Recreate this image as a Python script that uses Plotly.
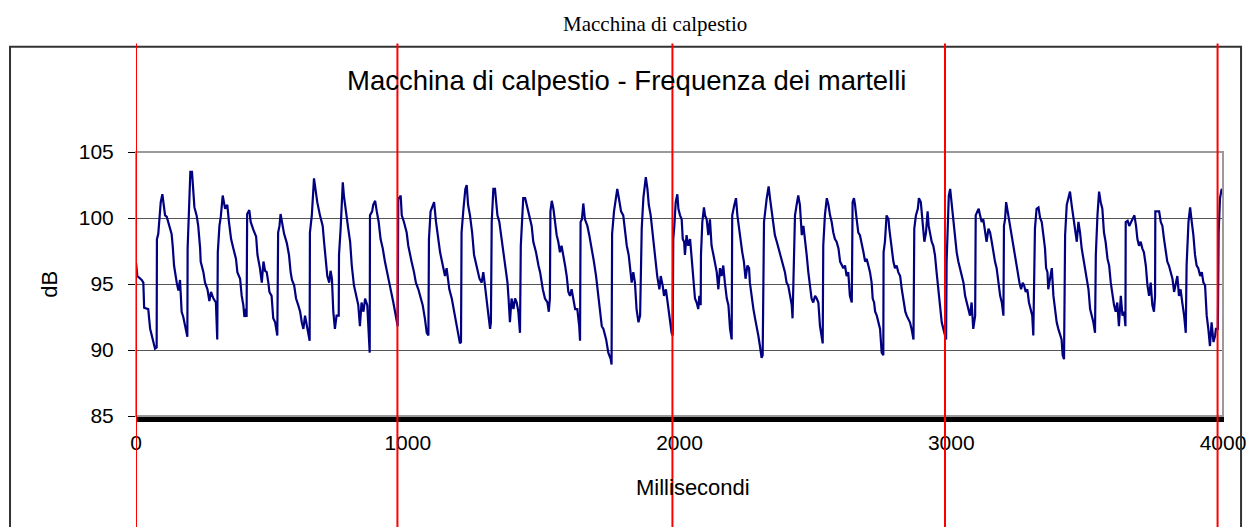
import plotly.graph_objects as go

# ---- data ----
time_ms = [
    0, 5, 21, 27, 30, 45, 52, 58, 64, 70, 76, 77, 82, 86, 91, 97, 101, 107, 113, 119, 125, 131, 135, 140,
    150, 156, 162, 164, 168, 174, 180, 187, 189, 190, 195, 200, 206, 209, 215, 223, 229, 236, 238, 248,
    254, 263, 270, 276, 285, 294, 299, 301, 307, 312, 319, 328, 336, 342, 350, 358, 368, 373, 383, 389,
    395, 399, 405, 407, 409, 417, 422, 432, 442, 447, 456, 463, 469, 475, 481, 487, 491, 499, 505, 512,
    518, 520, 523, 528, 532, 539, 545, 555, 563, 569, 574, 582, 589, 597, 604, 610, 616, 622, 628, 637,
    639, 640, 647, 655, 662, 667, 677, 687, 692, 699, 704, 711, 716, 721, 726, 732, 738, 746, 747, 753,
    761, 765, 773, 781, 788, 794, 802, 812, 818, 824, 830, 837, 843, 851, 856, 860, 861, 869, 873, 880,
    886, 893, 900, 908, 916, 925, 932, 938, 947, 953, 959, 963, 965, 969, 974, 978, 986, 996, 1002, 1008,
    1014, 1023, 1030, 1039, 1045, 1055, 1063, 1070, 1076, 1078, 1084, 1092, 1097, 1104, 1110, 1119, 1129,
    1137, 1143, 1153, 1162, 1170, 1178, 1186, 1192, 1196, 1198, 1205, 1212, 1217, 1222, 1229, 1237, 1244,
    1254, 1264, 1272, 1278, 1284, 1291, 1297, 1303, 1306, 1309, 1315, 1321, 1325, 1330, 1337, 1343, 1352,
    1357, 1362, 1367, 1371, 1376, 1382, 1389, 1395, 1401, 1407, 1413, 1416, 1420, 1425, 1432, 1438, 1447,
    1456, 1462, 1472, 1481, 1487, 1497, 1505, 1514, 1519, 1523, 1525, 1530, 1536, 1542, 1548, 1554, 1560,
    1566, 1573, 1579, 1585, 1591, 1597, 1603, 1609, 1616, 1624, 1631, 1634, 1636, 1641, 1646, 1652, 1661,
    1668, 1677, 1685, 1693, 1698, 1708, 1714, 1720, 1730, 1738, 1747, 1750, 1752, 1759, 1766, 1771, 1777,
    1785, 1793, 1800, 1806, 1813, 1818, 1824, 1830, 1836, 1842, 1849, 1855, 1861, 1867, 1876, 1882, 1887,
    1894, 1901, 1907, 1914, 1918, 1926, 1931, 1938, 1943, 1950, 1957, 1965, 1971, 1975, 1977, 1981, 1986,
    1992, 1996, 2002, 2008, 2012, 2017, 2020, 2026, 2032, 2039, 2045, 2051, 2057, 2063, 2069, 2073, 2078,
    2079, 2084, 2090, 2094, 2100, 2106, 2112, 2118, 2125, 2131, 2137, 2143, 2149, 2155, 2161, 2167, 2174,
    2180, 2186, 2192, 2194, 2202, 2208, 2213, 2219, 2225, 2231, 2237, 2243, 2250, 2256, 2259, 2266, 2272,
    2278, 2284, 2290, 2296, 2302, 2306, 2311, 2321, 2328, 2333, 2339, 2345, 2351, 2358, 2364, 2370, 2376,
    2382, 2388, 2394, 2400, 2407, 2413, 2416, 2425, 2431, 2437, 2443, 2450, 2456, 2462, 2468, 2474, 2480,
    2486, 2492, 2499, 2505, 2511, 2517, 2523, 2527, 2529, 2535, 2542, 2548, 2554, 2560, 2566, 2572, 2578,
    2585, 2591, 2597, 2603, 2609, 2615, 2621, 2627, 2634, 2637, 2642, 2646, 2652, 2658, 2664, 2670, 2677,
    2683, 2689, 2695, 2701, 2707, 2711, 2716, 2720, 2726, 2732, 2738, 2744, 2750, 2751, 2756, 2762, 2769,
    2772, 2777, 2782, 2787, 2793, 2799, 2805, 2812, 2818, 2821, 2826, 2831, 2836, 2842, 2848, 2854, 2861,
    2864, 2870, 2877, 2881, 2888, 2891, 2897, 2901, 2907, 2913, 2917, 2922, 2928, 2934, 2940, 2946, 2953,
    2959, 2965, 2971, 2977, 2981, 2983, 2986, 2991, 2996, 3002, 3008, 3014, 3020, 3026, 3032, 3038, 3045,
    3051, 3057, 3063, 3069, 3075, 3081, 3088, 3090, 3096, 3101, 3106, 3112, 3118, 3124, 3130, 3137, 3143,
    3149, 3155, 3161, 3167, 3173, 3180, 3186, 3189, 3192, 3194, 3198, 3202, 3206, 3214, 3220, 3226, 3232,
    3238, 3245, 3251, 3257, 3263, 3268, 3274, 3280, 3286, 3292, 3298, 3302, 3308, 3314, 3321, 3327, 3333,
    3339, 3345, 3349, 3354, 3357, 3364, 3370, 3376, 3382, 3388, 3394, 3400, 3406, 3410, 3415, 3419, 3425,
    3431, 3437, 3443, 3449, 3456, 3462, 3468, 3474, 3480, 3486, 3492, 3498, 3505, 3511, 3517, 3523, 3529,
    3532, 3538, 3544, 3550, 3556, 3562, 3568, 3575, 3581, 3587, 3593, 3599, 3605, 3611, 3617, 3624, 3630,
    3636, 3641, 3642, 3649, 3655, 3662, 3668, 3674, 3680, 3685, 3691, 3697, 3703, 3709, 3716, 3722, 3728,
    3734, 3740, 3746, 3750, 3751, 3759, 3765, 3771, 3777, 3783, 3789, 3795, 3801, 3808, 3814, 3820, 3826,
    3832, 3838, 3844, 3850, 3857, 3863, 3866, 3873, 3879, 3885, 3891, 3897, 3903, 3909, 3916, 3922, 3928,
    3934, 3940, 3946, 3952, 3958, 3965, 3971, 3974, 3981, 3984, 3989, 3995, 4000,
]

level_db = [
    96.6, 95.6, 95.3, 95.1, 93.2, 93.1, 91.6, 91.1, 90.6, 90.1, 90.2, 98.4, 98.8, 100.2, 101.2, 101.8, 101.0, 100.2, 100.1, 99.7, 99.3, 98.8, 97.9, 96.4,
    95.1, 94.5, 95.3, 94.6, 92.9, 92.5, 91.8, 91.0, 91.0, 97.7, 101.0, 103.5, 103.5, 102.2, 100.8, 100.2, 99.4, 97.7, 96.7, 95.9,
    95.1, 94.6, 93.7, 94.4, 93.9, 93.6, 90.8, 97.4, 99.4, 100.1, 101.7, 100.7, 101.0, 99.7, 98.4, 97.7, 96.9, 95.9, 95.4, 94.1,
    93.4, 92.5, 93.1, 92.5, 100.3, 100.6, 99.7, 99.1, 98.6, 97.2, 96.2, 95.1, 96.7, 96.0, 95.9, 95.1, 94.4, 94.1, 92.4, 92.1,
    91.1, 91.1, 98.9, 99.4, 100.3, 99.4, 98.8, 98.1, 97.2, 95.9, 95.3, 94.9, 93.9, 93.4, 92.9, 92.1, 91.6, 92.6, 91.8, 90.7,
    90.7, 98.9, 100.2, 103.0, 102.0, 101.2, 100.2, 99.4, 98.2, 96.4, 95.6, 95.1, 96.0, 95.4, 92.9, 91.6, 92.6, 92.6, 97.2, 99.2,
    102.7, 101.7, 100.2, 99.2, 98.2, 96.4, 94.9, 93.9, 93.4, 91.8, 93.6, 92.9, 93.9, 93.4, 90.6, 89.8, 100.2, 100.5, 101.0, 101.3,
    100.5, 99.7, 98.4, 97.7, 96.7, 95.9, 95.1, 94.5, 93.6, 92.9, 92.0, 91.8, 101.5, 101.5, 101.7, 100.2, 99.7, 98.9, 97.9, 97.2,
    96.7, 95.9, 95.1, 94.6, 94.1, 93.4, 92.4, 91.3, 91.1, 98.4, 100.5, 101.0, 101.2, 99.7, 98.7, 97.4, 96.4,
    95.6, 96.2, 94.6, 93.9, 92.9, 92.1, 91.1, 90.5, 90.6, 98.9, 100.7, 102.2, 102.5, 101.0, 100.2, 98.9, 97.2,
    96.2, 95.4, 95.1, 95.9, 94.9, 93.4, 92.6, 91.6, 92.1, 99.7, 102.2, 102.2, 101.0, 100.2, 99.7, 98.7, 97.4,
    96.4, 95.9, 95.1, 93.9, 92.1, 93.9, 93.1, 93.9, 93.6, 92.9, 91.3, 97.9, 100.2, 101.5, 101.5, 101.0, 100.2,
    99.4, 98.2, 97.4, 96.4, 95.9, 94.6, 93.9, 93.6, 92.9, 93.9, 100.5, 101.3, 100.7, 99.7, 98.7, 98.2, 97.4,
    97.9, 97.2, 96.4, 95.6, 94.4, 94.1, 94.6, 93.9, 93.1, 93.1, 91.8, 90.7, 99.7, 99.9, 101.1, 99.9, 99.4,
    98.7, 97.7, 96.7, 95.6, 94.6, 92.6, 91.8, 91.6, 90.8, 89.8, 89.3, 88.9, 98.8, 100.5, 101.7, 102.2, 101.5,
    100.5, 100.2, 98.7, 97.9, 97.2, 96.4, 95.1, 95.9, 95.1, 93.1, 92.1, 92.6, 99.2, 101.5, 103.1, 102.2, 101.0,
    100.2, 98.7, 97.4, 96.4, 95.6, 94.6, 95.6, 94.9, 94.1, 94.6, 93.4, 92.1, 91.3, 91.1, 98.4, 99.4, 101.2,
    101.8, 100.7, 100.2, 99.9, 98.4, 98.2, 97.2, 98.7, 97.9, 98.4, 96.9, 95.4, 93.9, 93.6, 93.1, 94.1, 93.4,
    97.2, 99.7, 100.8, 100.2, 99.9, 98.7, 99.9, 97.9, 97.2, 96.4, 95.9, 94.6, 96.2, 95.6, 96.4, 95.1, 93.9,
    93.4, 91.6, 90.8, 100.2, 101.0, 101.5, 100.2, 99.2, 98.2, 97.4, 96.7, 95.4, 96.4, 96.2, 95.1, 93.9, 93.1,
    92.4, 91.8, 91.1, 90.3, 89.4, 89.6, 99.7, 101.5, 102.4, 101.5, 100.5, 99.7, 98.7, 98.2, 97.7, 97.2, 96.9,
    96.4, 95.9, 95.1, 94.9, 94.1, 93.4, 92.4, 100.2, 101.0, 101.7, 101.0, 98.7, 99.4, 98.4, 97.2, 95.9, 94.6,
    93.9, 93.6, 94.1, 93.9, 93.6, 91.8, 91.1, 90.5, 97.9, 100.2, 101.5, 101.0, 100.2, 99.7, 98.9, 98.4, 98.2,
    97.7, 96.7, 96.4, 96.2, 96.4, 95.6, 95.9, 94.1, 93.6, 101.2, 101.5, 101.0, 99.9, 98.9, 98.7, 98.2, 97.4,
    96.7, 96.9, 96.4, 95.9, 95.1, 93.9, 93.6, 92.9, 92.6, 92.1, 91.6, 89.8, 89.6, 97.4, 98.2, 100.2, 99.9,
    99.2, 98.2, 97.4, 96.7, 96.2, 96.4, 95.9, 95.6, 94.6, 94.1, 93.4, 92.9, 92.6, 92.4, 92.1, 91.6, 90.8,
    99.2, 100.2, 100.7, 101.5, 101.2, 100.5, 99.7, 98.2, 98.9, 100.5, 99.4, 98.7, 98.2, 97.9, 97.2, 95.9, 94.4,
    92.9, 92.1, 91.6, 91.1, 90.8, 96.7, 98.7, 101.7, 102.2, 101.0, 99.7, 98.4, 97.4, 96.7, 96.2, 95.6, 95.1,
    94.1, 93.6, 93.1, 92.6, 93.6, 91.6, 92.6, 100.2, 100.5, 100.7, 100.2, 99.7, 99.9, 99.2, 98.2, 99.2, 98.9,
    98.2, 97.4, 96.7, 96.2, 95.1, 94.1, 93.6, 92.9, 92.6, 99.4, 99.9, 101.2, 100.7, 99.7, 98.7, 97.9, 97.2,
    96.4, 95.6, 95.1, 94.6, 95.1, 94.9, 94.4, 94.6, 93.6, 93.1, 92.6, 91.1, 99.2, 100.7, 100.8, 100.0, 99.7,
    98.7, 97.7, 96.2, 95.9, 94.6, 95.4, 96.2, 94.1, 93.1, 92.1, 91.6, 91.1, 90.8, 89.6, 89.3, 98.7, 101.0,
    101.5, 102.0, 101.0, 100.0, 98.9, 98.2, 99.7, 98.9, 97.7, 96.9, 96.4, 95.6, 94.6, 93.1, 92.6, 92.1, 91.3,
    97.2, 100.2, 102.0, 101.2, 100.7, 98.9, 98.2, 96.9, 96.4, 95.1, 94.1, 93.4, 92.9, 93.6, 91.8, 94.1, 92.6,
    92.9, 91.8, 99.7, 99.8, 99.4, 99.7, 99.9, 100.2, 99.4, 98.4, 97.9, 98.2, 97.7, 97.4, 96.4, 94.9, 94.1,
    95.1, 93.4, 92.9, 94.1, 100.5, 100.5, 100.5, 99.7, 99.4, 98.4, 97.4, 96.7, 96.4, 95.9, 95.4, 94.4, 95.1,
    95.6, 94.1, 94.6, 93.6, 92.6, 91.3, 96.4, 99.7, 100.8, 99.7, 98.7, 97.2, 96.4, 96.2, 95.6, 95.9, 95.1,
    94.9, 92.6, 91.6, 90.3, 92.1, 90.6, 91.1, 91.6, 91.6, 98.9, 101.5, 102.2, 102.0,
]

x_tick_values = [0, 1000, 2000, 3000, 4000]
y_tick_values = [85, 90, 95, 100, 105]
red_marker_ms = [0, 962, 1974, 2977, 3980]

outer_title = "Macchina di calpestio"
inner_title = "Macchina di calpestio - Frequenza dei martelli"
x_title = "Millisecondi"
y_title = "dB"

SANS = "Arial, 'Liberation Sans', sans-serif"
SERIF = "'Times New Roman', 'Liberation Serif', serif"

fig = go.Figure()
fig.add_trace(go.Scatter(
    x=time_ms, y=level_db, mode="lines",
    line=dict(color="#000080", width=2.2),
    showlegend=False, hoverinfo="skip",
))

# the page body adds an 8px offset; the figure is placed so the plot area lands where the reference has it
fig.update_layout(
    width=1239, height=519, autosize=False,
    margin=dict(l=128, r=24, t=144, b=111, autoexpand=False),
    paper_bgcolor="white", plot_bgcolor="white",
    font=dict(family=SANS, color="black"),
    showlegend=False,
    xaxis=dict(
        range=[0, 4000], tickvals=x_tick_values, ticktext=[str(v) for v in x_tick_values],
        automargin=False,
        showgrid=False, zeroline=False,
        showline=True, linecolor="black", linewidth=1,
        ticks="outside", ticklen=5, tickcolor="black", tickwidth=1,
        minor=dict(ticks="outside", dtick=2, ticklen=5, tickcolor="black", tickwidth=1, showgrid=False),
        tickfont=dict(size=21, family=SANS, color="black"),
        ticklabelstandoff=3,
    ),
    yaxis=dict(
        range=[85, 105], tickvals=y_tick_values,
        automargin=False,
        showgrid=True, gridcolor="#555555", gridwidth=1, zeroline=False,
        showline=True, linecolor="black", linewidth=1,
        ticks="outside", ticklen=7, tickcolor="black", tickwidth=1,
        tickfont=dict(size=21, family=SANS, color="black"),
        ticklabelstandoff=10,
    ),
)

# grey plot-area border
fig.add_shape(type="rect", xref="paper", yref="paper", x0=0, x1=1, y0=0, y1=1,
              line=dict(color="#9a9a9a", width=2), layer="above")
# outer chart border
fig.add_shape(type="rect", xref="paper", yref="paper", x0=-0.1159, x1=1.0166, y0=-0.6, y1=1.399,
              line=dict(color="#333333", width=2), layer="above")
# red second markers
for ms in red_marker_ms:
    fig.add_shape(type="line", xref="x", yref="paper", x0=ms, x1=ms, y0=-0.6, y1=1.411,
                  line=dict(color="#ff0000", width=2), layer="above")

fig.add_annotation(text=outer_title, xref="paper", yref="paper", x=0.4775, y=1.483,
                   showarrow=False, font=dict(family=SERIF, size=21, color="black"),
                   xanchor="center", yanchor="middle")
fig.add_annotation(text=inner_title, xref="paper", yref="paper", x=0.4508, y=1.270,
                   showarrow=False, font=dict(family=SANS, size=27.5, color="black"),
                   xanchor="center", yanchor="middle")
fig.add_annotation(text=y_title, xref="paper", yref="paper", x=-0.0791, y=0.497,
                   showarrow=False, textangle=-90, font=dict(family=SANS, size=22, color="black"),
                   xanchor="center", yanchor="middle")
fig.add_annotation(text=x_title, xref="paper", yref="paper", x=0.5124, y=-0.269,
                   showarrow=False, font=dict(family=SANS, size=22, color="black"),
                   xanchor="center", yanchor="middle")

fig.write_html("out.html")
